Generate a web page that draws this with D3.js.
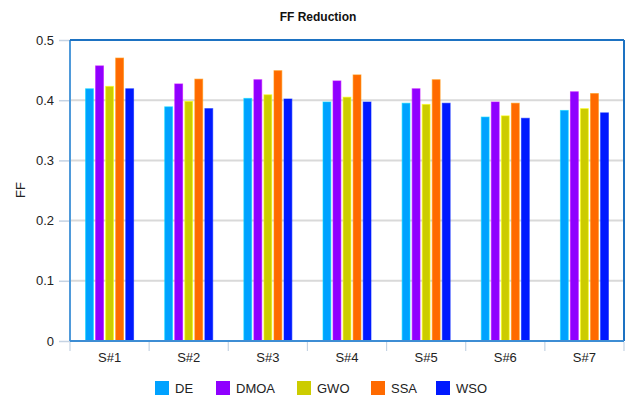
<!DOCTYPE html>
<html><head><meta charset="utf-8">
<script src="https://cdn.jsdelivr.net/npm/d3@7"></script>
<style>
body{margin:0;background:#fff;}
svg{display:block;font-family:"Liberation Sans",Arial,sans-serif;}
</style></head>
<body><svg id="c" width="631" height="397"></svg>
<script>
const categories = ["S#1","S#2","S#3","S#4","S#5","S#6","S#7"];
const seriesNames = ["DE","DMOA","GWO","SSA","WSO"];
const seriesColors = ["#00a2ff","#8f00ff","#cccc00","#ff6a00","#0019ff"];
const DE   = [0.419,0.389,0.403,0.397,0.395,0.372,0.383];
const DMOA = [0.457,0.427,0.434,0.432,0.419,0.397,0.414];
const GWO  = [0.423,0.398,0.409,0.405,0.393,0.374,0.386];
const SSA  = [0.470,0.435,0.449,0.442,0.434,0.395,0.411];
const WSO  = [0.419,0.386,0.402,0.397,0.395,0.370,0.379];
const yTicks = [0,0.1,0.2,0.3,0.4,0.5];
const values = [DE,DMOA,GWO,SSA,WSO];

const svg = d3.select("#c");
const m = {l:70, r:624, t:40, b:341};
const x = d3.scaleBand().domain(categories).range([m.l,m.r]).paddingInner(0).paddingOuter(0);
const x1 = d3.scaleBand().domain(seriesNames).range([0,48]).paddingInner(0.22);
const y = d3.scaleLinear().domain([0,0.5]).range([m.b,m.t]);

// title
svg.append("text").attr("x",318).attr("y",21).attr("text-anchor","middle")
  .attr("font-size",12).attr("font-weight","bold").attr("fill","#111").text("FF Reduction");

// gridlines
svg.append("g").selectAll("line").data(yTicks.filter(d=>d>0&&d<0.5)).join("line")
  .attr("x1",m.l).attr("x2",m.r).attr("y1",d=>y(d)).attr("y2",d=>y(d))
  .attr("stroke","#d9d9d9").attr("stroke-width",2);

// y axis
const ya = svg.append("g").attr("transform",`translate(${m.l},0)`)
  .call(d3.axisLeft(y).tickValues(yTicks).tickFormat(d3.format("")).tickSize(11).tickPadding(5));
ya.select(".domain").remove();
ya.selectAll(".tick line").attr("stroke","#c5d3e3").attr("stroke-width",1.5);
ya.selectAll(".tick text").attr("font-size",13).attr("fill","#222").attr("font-family","Liberation Sans, Arial, sans-serif");

// x axis
const xa = svg.append("g").attr("transform",`translate(0,${m.b})`)
  .call(d3.axisBottom(x).tickSize(0).tickPadding(12));
xa.select(".domain").remove();
xa.selectAll(".tick text").attr("font-size",13).attr("fill","#222").attr("font-family","Liberation Sans, Arial, sans-serif");
svg.append("g").selectAll("line").data(d3.range(categories.length+1)).join("line")
  .attr("x1",i=>m.l+i*x.bandwidth()).attr("x2",i=>m.l+i*x.bandwidth())
  .attr("y1",m.b+1).attr("y2",m.b+10).attr("stroke","#c5d3e3").attr("stroke-width",1.2);

// bars
const groups = svg.append("g").selectAll("g").data(categories).join("g")
  .attr("transform",d=>`translate(${x(d)+x.bandwidth()/2-24},0)`);
groups.selectAll("rect").data((c,ci)=>seriesNames.map((s,si)=>({s,si,v:values[si][ci]}))).join("rect")
  .attr("x",d=>x1(d.s)).attr("width",x1.bandwidth())
  .attr("y",d=>y(d.v)).attr("height",d=>m.b-y(d.v))
  .attr("fill",d=>seriesColors[d.si])
  .attr("stroke",d=>d3.color(seriesColors[d.si]).brighter(0.8))
  .attr("stroke-opacity",0.6).attr("stroke-width",1);

// frame
svg.append("line").attr("x1",m.l).attr("x2",m.l).attr("y1",m.t).attr("y2",m.b).attr("stroke","#4f9ada").attr("stroke-width",2);
svg.append("line").attr("x1",m.l).attr("x2",m.r).attr("y1",m.t).attr("y2",m.t).attr("stroke","#1d72c2").attr("stroke-width",2);
svg.append("line").attr("x1",m.r).attr("x2",m.r).attr("y1",m.t).attr("y2",m.b).attr("stroke","#1d72c2").attr("stroke-width",2);
svg.append("line").attr("x1",m.l).attr("x2",m.r).attr("y1",m.b).attr("y2",m.b).attr("stroke","#3d8dd4").attr("stroke-width",2);

// y title
svg.append("text").attr("transform","translate(25,190) rotate(-90)").attr("text-anchor","middle")
  .attr("font-size",13).attr("fill","#222").text("FF");

// legend
const legX = [155,216,297,371,436];
const lg = svg.append("g").selectAll("g").data(seriesNames).join("g")
  .attr("transform",(d,i)=>`translate(${legX[i]},381)`);
lg.append("rect").attr("width",14).attr("height",14).attr("fill",(d,i)=>seriesColors[i]);
lg.append("text").attr("x",20).attr("y",12).attr("font-size",13).attr("fill","#222").text(d=>d);
</script></body></html>
